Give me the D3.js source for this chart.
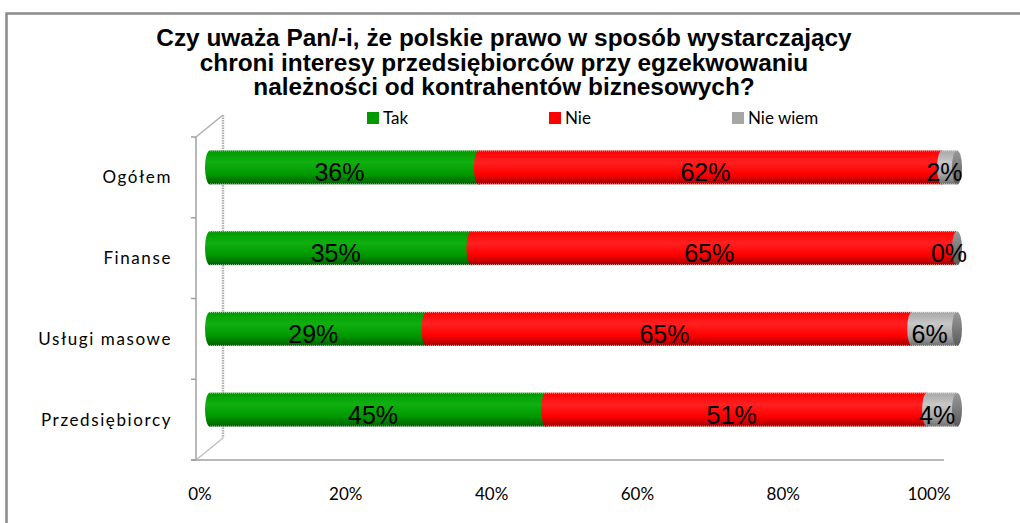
<!DOCTYPE html>
<html>
<head>
<meta charset="utf-8">
<script src="https://cdn.jsdelivr.net/npm/d3@7"></script>
<style>
  body { margin: 0; background: #fff; }
  svg { display: block; }
</style>
</head>
<body>
<svg id="chart" width="1020" height="523"></svg>
<script>
// data
const categories = ["Ogółem", "Finanse", "Usługi masowe", "Przedsiębiorcy"];
const seriesNames = ["Tak", "Nie", "Nie wiem"];
const tak = [36, 35, 29, 45];
const nie = [62, 65, 65, 51];
const nieWiem = [2, 0, 6, 4];
const tickLabels = ["0%", "20%", "40%", "60%", "80%", "100%"];
const titleLines = [
  "Czy uważa Pan/-i, że polskie prawo w sposób wystarczający",
  "chroni interesy przedsiębiorców przy egzekwowaniu",
  "należności od kontrahentów biznesowych?"
];

const colors = ["#009900", "#ff0000", "#a6a6a6"];
const darks = ["#005f00", "#a00000", "#6e6e6e"];
const lights = ["#10b010", "#ff2020", "#c8c8c8"];

const svg = d3.select("#chart");

// outer frame
svg.append("rect")
  .attr("x", 6.5).attr("y", 13.5)
  .attr("width", 1040).attr("height", 540)
  .attr("fill", "none")
  .attr("stroke", "#8a8a8a")
  .attr("stroke-width", 2.5);

// title
svg.append("text")
  .attr("x", 504).attr("y", 46)
  .attr("text-anchor", "middle")
  .attr("font-family", "'Liberation Sans', Arial, sans-serif")
  .attr("font-weight", "bold")
  .attr("font-size", 24.4)
  .attr("fill", "#000")
  .selectAll("tspan")
  .data(titleLines)
  .join("tspan")
  .attr("x", 504)
  .attr("dy", (d, i) => i === 0 ? 0 : 24.5)
  .text(d => d);

// legend
const legendX = [367, 549, 732];
const legend = svg.append("g");
seriesNames.forEach((name, i) => {
  legend.append("rect")
    .attr("x", legendX[i]).attr("y", 112)
    .attr("width", 12).attr("height", 12)
    .attr("fill", colors[i]);
  legend.append("text")
    .attr("x", legendX[i] + 16).attr("y", 124)
    .attr("font-family", "Lato, 'Noto Sans', sans-serif")
    .attr("font-size", 17)
    .attr("fill", "#000")
    .text(name);
});

// scales
const axisX = d3.scalePoint().domain(tickLabels).range([200, 929]);
const barX = d3.scaleLinear().domain([0, 100]).range([210, 957]);
const rowY = d3.scaleBand().domain(categories).range([137, 460]);
const barH = 34;
const depthY = -10; // bars sit a bit higher than the category band centre

// walls / axes
const axisColor = "#a0a0a0";
const g = svg.append("g");
g.append("line")
  .attr("x1", 196).attr("y1", 137).attr("x2", 196).attr("y2", 460)
  .attr("stroke", axisColor).attr("stroke-width", 1.5);
g.append("line")
  .attr("x1", 223).attr("y1", 115).attr("x2", 223).attr("y2", 438)
  .attr("stroke", "#b0b0b0").attr("stroke-width", 2.5)
  .attr("stroke-dasharray", "1.5,1");
g.append("line")
  .attr("x1", 196).attr("y1", 137).attr("x2", 223).attr("y2", 115)
  .attr("stroke", "#b0b0b0").attr("stroke-width", 1.5);
g.append("line")
  .attr("x1", 196).attr("y1", 460).attr("x2", 223).attr("y2", 438)
  .attr("stroke", "#c0c0c0").attr("stroke-width", 1.5);
g.append("line")
  .attr("x1", 191).attr("y1", 460).attr("x2", 944).attr("y2", 460)
  .attr("stroke", axisColor).attr("stroke-width", 1.5);
// category tick marks
const tickYs = categories.map(c => rowY(c)).concat([460]);
g.selectAll(".ctick")
  .data(tickYs)
  .join("line")
  .attr("x1", 191).attr("x2", 196)
  .attr("y1", d => d).attr("y2", d => d)
  .attr("stroke", axisColor).attr("stroke-width", 1.5);

// x tick labels
svg.append("g")
  .selectAll("text")
  .data(tickLabels)
  .join("text")
  .attr("x", d => axisX(d))
  .attr("y", 500)
  .attr("text-anchor", "middle")
  .attr("font-family", "Lato, 'Noto Sans', sans-serif")
  .attr("font-size", 17)
  .attr("fill", "#000")
  .text(d => d);

// category labels
svg.append("g")
  .selectAll("text")
  .data(categories)
  .join("text")
  .attr("x", 172)
  .attr("y", d => rowY(d) + rowY.bandwidth() / 2 + 6)
  .attr("text-anchor", "end")
  .attr("font-family", "Lato, 'Noto Sans', sans-serif")
  .attr("font-size", 17)
  .attr("letter-spacing", 1.6)
  .attr("fill", "#000")
  .text(d => d);

// gradients for cylinder look
const defs = svg.append("defs");
colors.forEach((c, i) => {
  const grad = defs.append("linearGradient")
    .attr("id", "grad" + i)
    .attr("x1", 0).attr("y1", 0).attr("x2", 0).attr("y2", 1);
  grad.append("stop").attr("offset", "0%").attr("stop-color", c);
  grad.append("stop").attr("offset", "35%").attr("stop-color", lights[i]);
  grad.append("stop").attr("offset", "70%").attr("stop-color", c);
  grad.append("stop").attr("offset", "100%").attr("stop-color", darks[i]);
});
const capGrad = defs.append("linearGradient")
  .attr("id", "capGrad")
  .attr("x1", 0).attr("y1", 0).attr("x2", 0).attr("y2", 1);
capGrad.append("stop").attr("offset", "0%").attr("stop-color", "#9a9a9a");
capGrad.append("stop").attr("offset", "100%").attr("stop-color", "#5a5a5a");

// bars
const rx = 5;
const bars = svg.append("g");
categories.forEach((cat, r) => {
  const vals = [tak[r], nie[r], nieWiem[r]];
  const cy = rowY(cat) + rowY.bandwidth() / 2 + depthY;
  const y0 = cy - barH / 2;
  let acc = 0;
  const segs = vals.map((v, i) => {
    const s = { i: i, v: v, x0: barX(acc), x1: barX(acc + v) };
    acc += v;
    return s;
  });
  const row = bars.append("g");
  segs.forEach(s => {
    if (s.v <= 0) return;
    row.append("rect")
      .attr("x", s.x0).attr("y", y0)
      .attr("width", s.x1 - s.x0).attr("height", barH)
      .attr("fill", "url(#grad" + s.i + ")");
    row.append("ellipse")
      .attr("cx", s.x0).attr("cy", cy)
      .attr("rx", rx).attr("ry", barH / 2)
      .attr("fill", "url(#grad" + s.i + ")");
  });
  // end cap
  row.append("ellipse")
    .attr("cx", barX(100)).attr("cy", cy)
    .attr("rx", rx).attr("ry", barH / 2)
    .attr("fill", "url(#capGrad)");
  // serrated top/bottom edge
  [y0 + 0.5, y0 + barH - 0.5].forEach(yy => {
    row.append("line")
      .attr("x1", barX(0)).attr("x2", barX(100))
      .attr("y1", yy).attr("y2", yy)
      .attr("stroke", "#ffffff").attr("stroke-opacity", 0.6)
      .attr("stroke-width", 1).attr("stroke-dasharray", "1,1");
  });

  // value labels
  row.selectAll("text.val")
    .data(segs)
    .join("text")
    .attr("class", "val")
    .attr("x", s => Math.min((s.x0 + s.x1) / 2 - 5, 949))
    .attr("y", cy + 14)
    .attr("text-anchor", "middle")
    .attr("font-family", "'Liberation Sans', Arial, sans-serif")
    .attr("font-size", 25)
    .attr("fill", "#000")
    .text(s => s.v + "%");
});
</script>
</body>
</html>
